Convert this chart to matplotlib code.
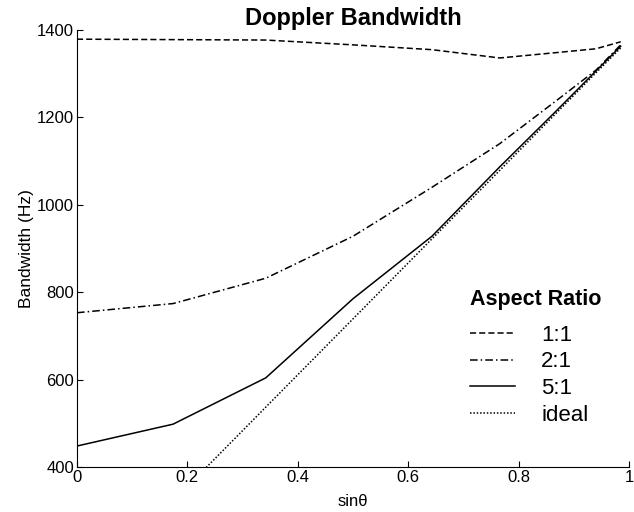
import matplotlib
matplotlib.use("Agg")
import matplotlib.pyplot as plt

plt.rcParams['font.family'] = ['Liberation Sans', 'DejaVu Sans']

sin_theta = [0.0, 0.174, 0.342, 0.5, 0.643, 0.766, 0.866, 0.940, 0.985]
bw_1_1 = [1379, 1378, 1377, 1366, 1355, 1336, 1348, 1357, 1373]
bw_2_1 = [753, 774, 832, 928, 1040, 1140, 1236, 1308, 1366]
bw_5_1 = [448, 498, 604, 785, 928, 1087, 1212, 1306, 1363]
bw_ideal = [99, 322, 537, 739, 922, 1079, 1207, 1302, 1359]

series_labels = ["1:1", "2:1", "5:1", "ideal"]
xticks = [0, 0.2, 0.4, 0.6, 0.8, 1]
xtick_labels = ["0", "0.2", "0.4", "0.6", "0.8", "1"]
yticks = [400, 600, 800, 1000, 1200, 1400]

fig = plt.figure(figsize=(6.34, 5.12), dpi=100)
ax = fig.add_axes([77/634, 1 - 467/512, (629 - 77)/634, (467 - 30)/512])

ax.plot(sin_theta, bw_1_1, color='black', lw=1.1, dashes=(4, 2), label=series_labels[0])
ax.plot(sin_theta, bw_2_1, color='black', lw=1.1, dashes=(5, 2, 1, 2), label=series_labels[1])
ax.plot(sin_theta, bw_5_1, color='black', lw=1.1, linestyle='-', label=series_labels[2])
ax.plot(sin_theta, bw_ideal, color='black', lw=1.1, dashes=(1, 1.2), label=series_labels[3])

ax.set_xlim(0, 1)
ax.set_ylim(400, 1400)
ax.set_xticks(xticks)
ax.set_xticklabels(xtick_labels)
ax.set_yticks(yticks)
ax.tick_params(direction='in', length=4, labelsize=12, width=0.8, pad=2)
for s in ['top', 'right']:
    ax.spines[s].set_visible(False)

ax.set_title("Doppler Bandwidth", fontsize=17, fontweight='bold', pad=1)
ax.set_xlabel("sin\u03b8", fontsize=12, labelpad=7)
ax.set_ylabel("Bandwidth (Hz)", fontsize=12.5, labelpad=2)

ax.text((470 - 77) / 552, (467 - 300) / 437, "Aspect Ratio", transform=ax.transAxes,
        fontsize=15.5, fontweight='bold', ha='left', va='center')

leg = ax.legend(loc='upper left', bbox_to_anchor=(0.684, 0.3615), frameon=False,
                fontsize=16, handlelength=2.0, handletextpad=1.2, labelspacing=0.26,
                borderpad=0.2)

fig.savefig("out.png", dpi=100)
